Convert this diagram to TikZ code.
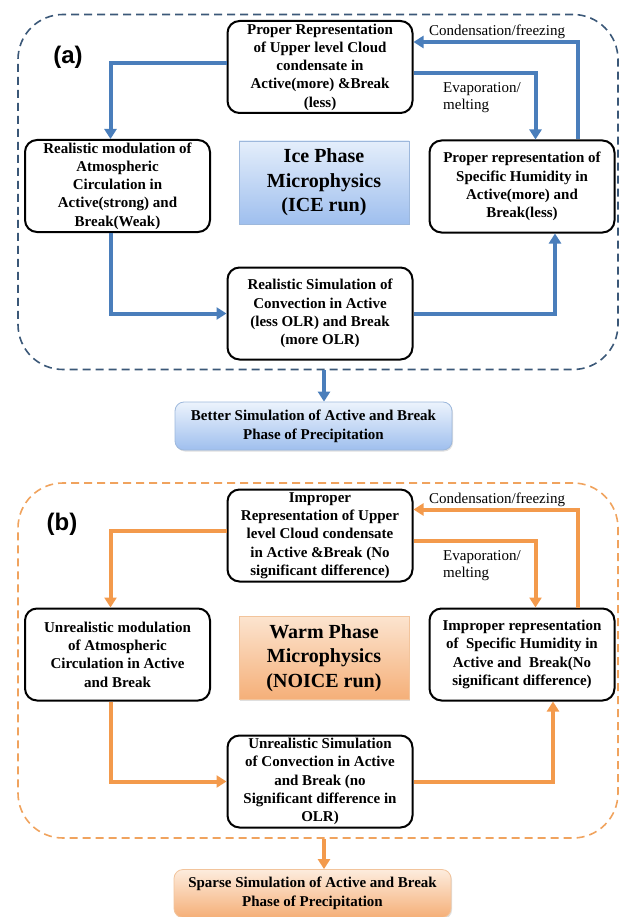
\documentclass[tikz,border=0pt]{standalone}
\usepackage{fontspec}
\setmainfont{Liberation Serif}
\newfontfamily\panelfont{Liberation Sans}
\usepackage{xcolor}
\usepackage{tikz}
\usetikzlibrary{arrows.meta,positioning,calc,shadows}
\definecolor{framea}{HTML}{3B5878}
\definecolor{frameb}{HTML}{F0A35E}
\definecolor{flowblue}{HTML}{4A7EBB}
\definecolor{floworange}{HTML}{F39A4C}
\definecolor{icetop}{HTML}{E4EEFB}
\definecolor{icebot}{HTML}{9FBFEE}
\definecolor{iceedge}{HTML}{9DB8DC}
\definecolor{warmtop}{HTML}{FCE4CF}
\definecolor{warmbot}{HTML}{F5AF78}
\definecolor{warmedge}{HTML}{F2C49C}

\tikzset{
  stepbox/.style={draw=black,line width=2pt,rounded corners=12pt,fill=white,
    align=center,inner sep=2pt,minimum width=185pt,minimum height=92pt,
    font=\bfseries\fontsize{15}{18.3}\selectfont},
  corebox/.style={draw=#1edge,line width=0.8pt,top color=#1top,bottom color=#1bot,
    align=center,minimum width=170pt,minimum height=83pt,
    drop shadow={shadow xshift=1pt,shadow yshift=-1.5pt,opacity=0.25},
    font=\bfseries\fontsize{20}{24.5}\selectfont},
  resultbox/.style={draw=#1edge,line width=0.8pt,rounded corners=9pt,top color=#1top!70!white,
    bottom color=#1bot,align=center,minimum width=277pt,minimum height=48pt,
    drop shadow={shadow xshift=1pt,shadow yshift=-1.5pt,opacity=0.25},
    font=\bfseries\fontsize{15}{18.7}\selectfont},
  panelframe/.style={draw=#1,dashed,dash pattern=on 8pt off 5pt,line width=1.6pt,
    rounded corners=45pt,minimum width=600pt,minimum height=355pt,inner sep=0pt},
  flowline/.style={draw=#1,line width=4pt,-{Triangle[length=10pt,width=12pt]}},
  note/.style={inner sep=0pt,font=\fontsize{15}{17}\selectfont},
  panel/.style={font=\panelfont\bfseries\fontsize{24}{28}\selectfont}
}

\begin{document}
\begin{tikzpicture}[x=1pt,y=1pt]
\useasboundingbox (0,0) rectangle (620,-917);

% (a) ICE run
\node[panelframe=framea] (fra) at (318,-192) {};
\node[panel] (laba) at (68,-57) {(a)};
\node[stepbox] (upa) at (320,-67) {Proper Representation\\of Upper level Cloud\\condensate in\\Active(more) \&Break\\(less)};
\node[stepbox] (circa) at (117.5,-186) {Realistic modulation of\\Atmospheric\\Circulation in\\Active(strong) and\\Break(Weak)};
\node[stepbox] (huma) at (522,-186.5) {Proper representation of\\Specific Humidity in\\Active(more) and\\Break(less)};
\node[stepbox] (conva) at (320,-313.5) {Realistic Simulation of\\Convection in Active\\(less OLR) and Break\\(more OLR)};
\node[corebox=ice] (icea) at (324,-182.5) {Ice Phase\\Microphysics\\(ICE run)};
\node[resultbox=ice] (better) at (313.5,-426) {Better Simulation of Active and Break\\Phase of Precipitation};
\node[note,anchor=west] (conda) at (429,-31.5) {Condensation/freezing};
\node[note,anchor=north west,align=left] (evapa) at (443,-82) {Evaporation/\\melting};

\draw[flowline=flowblue] ([yshift=4pt]upa.west) -| ([xshift=-7pt]circa.north);
\draw[flowline=flowblue] ([yshift=-6pt]upa.east) -| ([xshift=13.5pt]huma.north);
\draw[flowline=flowblue] ([xshift=56pt]huma.north) |- ([yshift=25pt]upa.east);
\draw[flowline=flowblue] ([xshift=-7pt]circa.south) |- (conva.west);
\draw[flowline=flowblue] (conva.east) -| ([xshift=33pt]huma.south);
\draw[flowline=flowblue] ([xshift=6pt]fra.south) -- ([xshift=6pt]fra.south |- better.north);

% (b) NOICE run
\node[panelframe=frameb] (frb) at (318,-660.5) {};
\node[panel] (labb) at (62,-524) {(b)};
\node[stepbox] (upb) at (320,-535.5) {Improper\\Representation of Upper\\level Cloud condensate\\in Active \&Break (No\\significant difference)};
\node[stepbox] (circb) at (117.5,-654.5) {Unrealistic modulation\\of Atmospheric\\Circulation in Active\\and Break};
\node[stepbox] (humb) at (522,-654.5) {Improper representation\\of~ Specific Humidity in\\Active and~ Break(No\\significant difference)};
\node[stepbox] (convb) at (320,-781.5) {Unrealistic Simulation\\of Convection in Active\\and Break (no\\Significant difference in\\OLR)};
\node[corebox=warm] (warmb) at (324,-658) {Warm Phase\\Microphysics\\(NOICE run)};
\node[resultbox=warm] (sparse) at (312.5,-893.5) {Sparse Simulation of Active and Break\\Phase of Precipitation};
\node[note,anchor=west] (condb) at (429,-499.5) {Condensation/freezing};
\node[note,anchor=north west,align=left] (evapb) at (443,-550) {Evaporation/\\melting};

\draw[flowline=floworange] ([yshift=4.5pt]upb.west) -| ([xshift=-7pt]circb.north);
\draw[flowline=floworange] ([yshift=-5pt]upb.east) -| ([xshift=13.5pt]humb.north);
\draw[flowline=floworange] ([xshift=56pt]humb.north) |- ([yshift=26pt]upb.east);
\draw[flowline=floworange] ([xshift=-7pt]circb.south) |- (convb.west);
\draw[flowline=floworange] (convb.east) -| ([xshift=31pt]humb.south);
\draw[flowline=floworange] ([xshift=6pt]frb.south) -- ([xshift=6pt]frb.south |- sparse.north);
\end{tikzpicture}
\end{document}
